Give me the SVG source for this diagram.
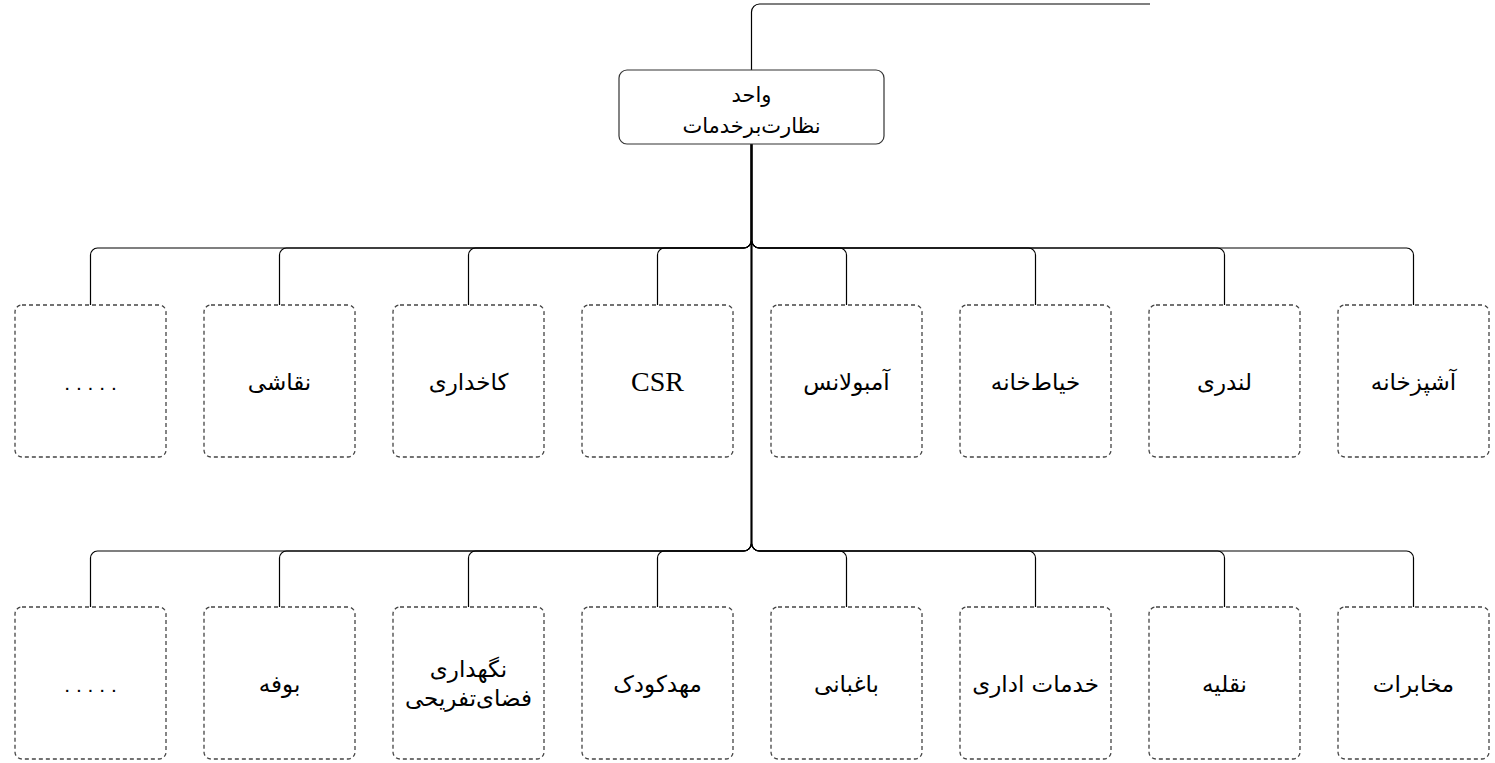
<svg xmlns="http://www.w3.org/2000/svg" width="1495" height="763" viewBox="0 0 1495 763">
<style>
.bg{fill:#ffffff}
.edge{fill:none;stroke:#000;stroke-width:1.2}
.box{fill:#fff;stroke:#444;stroke-width:1.3;stroke-dasharray:4 3}
.root{fill:#fff;stroke:#333;stroke-width:1.2}
.lbl{font-family:"DejaVu Sans","Liberation Sans",sans-serif;font-size:23px;fill:#000;text-anchor:middle}
.rt{font-size:21px}
.lat{font-family:"Liberation Serif",serif;font-size:28px;fill:#000;text-anchor:middle}
.dots{font-family:"Liberation Sans",sans-serif;font-size:21px;fill:#000;text-anchor:middle}
</style>
<rect class="bg" x="0" y="0" width="1495" height="763"/>
<g id="connectors">
<path class="edge" d="M751.5,70 V12 A8,8 0 0 1 759.5,4 H1150"/>
<path class="edge" d="M751.5,144 V240 A8,8 0 0 1 743.5,248 H97.5 A7,7 0 0 0 90.5,255 V305"/>
<path class="edge" d="M751.5,144 V240 A8,8 0 0 1 743.5,248 H286.5 A7,7 0 0 0 279.5,255 V305"/>
<path class="edge" d="M751.5,144 V240 A8,8 0 0 1 743.5,248 H475.5 A7,7 0 0 0 468.5,255 V305"/>
<path class="edge" d="M751.5,144 V240 A8,8 0 0 1 743.5,248 H664.5 A7,7 0 0 0 657.5,255 V305"/>
<path class="edge" d="M751.5,144 V240 A8,8 0 0 0 759.5,248 H839.5 A7,7 0 0 1 846.5,255 V305"/>
<path class="edge" d="M751.5,144 V240 A8,8 0 0 0 759.5,248 H1028.5 A7,7 0 0 1 1035.5,255 V305"/>
<path class="edge" d="M751.5,144 V240 A8,8 0 0 0 759.5,248 H1217.5 A7,7 0 0 1 1224.5,255 V305"/>
<path class="edge" d="M751.5,144 V240 A8,8 0 0 0 759.5,248 H1406.5 A7,7 0 0 1 1413.5,255 V305"/>
<path class="edge" d="M751.5,144 V543 A8,8 0 0 1 743.5,551 H97.5 A7,7 0 0 0 90.5,558 V607"/>
<path class="edge" d="M751.5,144 V543 A8,8 0 0 1 743.5,551 H286.5 A7,7 0 0 0 279.5,558 V607"/>
<path class="edge" d="M751.5,144 V543 A8,8 0 0 1 743.5,551 H475.5 A7,7 0 0 0 468.5,558 V607"/>
<path class="edge" d="M751.5,144 V543 A8,8 0 0 1 743.5,551 H664.5 A7,7 0 0 0 657.5,558 V607"/>
<path class="edge" d="M751.5,144 V543 A8,8 0 0 0 759.5,551 H839.5 A7,7 0 0 1 846.5,558 V607"/>
<path class="edge" d="M751.5,144 V543 A8,8 0 0 0 759.5,551 H1028.5 A7,7 0 0 1 1035.5,558 V607"/>
<path class="edge" d="M751.5,144 V543 A8,8 0 0 0 759.5,551 H1217.5 A7,7 0 0 1 1224.5,558 V607"/>
<path class="edge" d="M751.5,144 V543 A8,8 0 0 0 759.5,551 H1406.5 A7,7 0 0 1 1413.5,558 V607"/>
</g>
<g id="root">
<rect class="root" x="619" y="70" width="265" height="74" rx="8"/>
<text class="lbl rt" x="751.5" y="102">واحد</text>
<text class="lbl rt" x="751.5" y="133">نظارت‌برخدمات</text>
</g>
<g id="n1-1"><rect class="box" x="15" y="305" width="151" height="152" rx="7"/><text class="dots" x="90.5" y="390">. . . . .</text></g>
<g id="n1-2"><rect class="box" x="204" y="305" width="151" height="152" rx="7"/><text class="lbl" x="279.5" y="390">نقاشی</text></g>
<g id="n1-3"><rect class="box" x="393" y="305" width="151" height="152" rx="7"/><text class="lbl" x="468.5" y="390">کاخداری</text></g>
<g id="n1-4"><rect class="box" x="582" y="305" width="151" height="152" rx="7"/><text class="lat" x="657.5" y="391">CSR</text></g>
<g id="n1-5"><rect class="box" x="771" y="305" width="151" height="152" rx="7"/><text class="lbl" x="846.5" y="390">آمبولانس</text></g>
<g id="n1-6"><rect class="box" x="960" y="305" width="151" height="152" rx="7"/><text class="lbl" x="1035.5" y="390">خیاط‌خانه</text></g>
<g id="n1-7"><rect class="box" x="1149" y="305" width="151" height="152" rx="7"/><text class="lbl" x="1224.5" y="390">لندری</text></g>
<g id="n1-8"><rect class="box" x="1338" y="305" width="151" height="152" rx="7"/><text class="lbl" x="1413.5" y="390">آشپزخانه</text></g>
<g id="n2-1"><rect class="box" x="15" y="607" width="151" height="152" rx="7"/><text class="dots" x="90.5" y="692">. . . . .</text></g>
<g id="n2-2"><rect class="box" x="204" y="607" width="151" height="152" rx="7"/><text class="lbl" x="279.5" y="692">بوفه</text></g>
<g id="n2-3"><rect class="box" x="393" y="607" width="151" height="152" rx="7"/><text class="lbl" x="468.5" y="677">نگهداری</text><text class="lbl" x="468.5" y="706">فضای‌تفریحی</text></g>
<g id="n2-4"><rect class="box" x="582" y="607" width="151" height="152" rx="7"/><text class="lbl" x="657.5" y="692">مهدکودک</text></g>
<g id="n2-5"><rect class="box" x="771" y="607" width="151" height="152" rx="7"/><text class="lbl" x="846.5" y="692">باغبانی</text></g>
<g id="n2-6"><rect class="box" x="960" y="607" width="151" height="152" rx="7"/><text class="lbl" x="1035.5" y="692">خدمات اداری</text></g>
<g id="n2-7"><rect class="box" x="1149" y="607" width="151" height="152" rx="7"/><text class="lbl" x="1224.5" y="692">نقلیه</text></g>
<g id="n2-8"><rect class="box" x="1338" y="607" width="151" height="152" rx="7"/><text class="lbl" x="1413.5" y="692">مخابرات</text></g>
</svg>
